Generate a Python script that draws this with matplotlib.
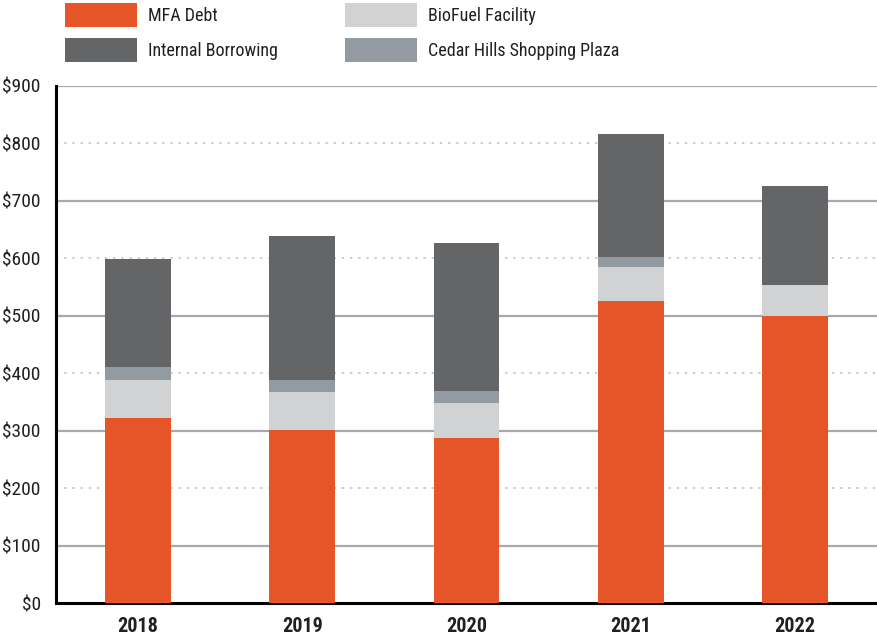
import matplotlib
matplotlib.use("Agg")
import matplotlib.pyplot as plt
from matplotlib.patches import Rectangle

plt.rcParams['font.family'] = ['Roboto Condensed', 'DejaVu Sans']

years = ['2018', '2019', '2020', '2021', '2022']
mfa_debt = [322, 301, 287, 526, 500]
biofuel = [66, 66, 61, 59, 54]
cedar_hills = [23, 21, 21, 17, 0]
internal = [188, 251, 258, 214, 172]

series_names = ['MFA Debt', 'BioFuel Facility', 'Cedar Hills Shopping Plaza', 'Internal Borrowing']
series_vals = [mfa_debt, biofuel, cedar_hills, internal]
colors = ['#E65527', '#D1D2D4', '#939AA1', '#646567']

W, H = 878, 637
fig = plt.figure(figsize=(W / 100, H / 100), dpi=100)
ax = fig.add_axes([56 / W, (H - 603) / H, (877 - 56) / W, (603 - 86) / H])

x = list(range(len(years)))
bottom = [0] * len(years)
for name, vals, c in zip(series_names, series_vals, colors):
    ax.bar(x, vals, width=0.4, bottom=bottom, color=c, zorder=3, linewidth=0)
    bottom = [b + v for b, v in zip(bottom, vals)]

ax.set_xlim(-0.5, 4.5)
ax.set_ylim(0, 900)
for v in range(100, 901, 100):
    if (v // 100) % 2 == 1:
        ax.axhline(v, color='#A7A9AC', lw=1.6, zorder=1)
    else:
        ax.axhline(v, color='#CCCCCC', lw=1.4, ls=(0, (1.2, 3)), zorder=1)

ax.set_yticks(range(0, 901, 100))
ax.set_yticklabels([f'${v}' for v in range(0, 901, 100)], fontsize=14, color='#231F20')
ax.set_xticks(x)
ax.set_xticklabels(years, fontsize=14.5, fontweight='bold', color='#231F20')
ax.tick_params(axis='both', length=0)
ax.tick_params(axis='y', pad=11)
ax.tick_params(axis='x', pad=10)
for s in ['top', 'right']:
    ax.spines[s].set_visible(False)
ax.spines['left'].set_linewidth(2.2)
ax.spines['bottom'].set_linewidth(2.2)
ax.spines['left'].set_color('black')
ax.spines['bottom'].set_color('black')

# legend
leg = [('MFA Debt', '#E65527', 65, 3), ('Internal Borrowing', '#646567', 65, 38),
       ('BioFuel Facility', '#D1D2D4', 345, 3), ('Cedar Hills Shopping Plaza', '#939AA1', 345, 38)]
for label, c, lx, ly in leg:
    fig.add_artist(Rectangle((lx / W, 1 - (ly + 24) / H), 72 / W, 24 / H,
                             transform=fig.transFigure, color=c, lw=0))
    fig.text((lx + 83) / W, 1 - (ly + 13) / H, label, fontsize=13, color='#231F20',
             va='center', ha='left')

fig.savefig('out.png', dpi=100)
